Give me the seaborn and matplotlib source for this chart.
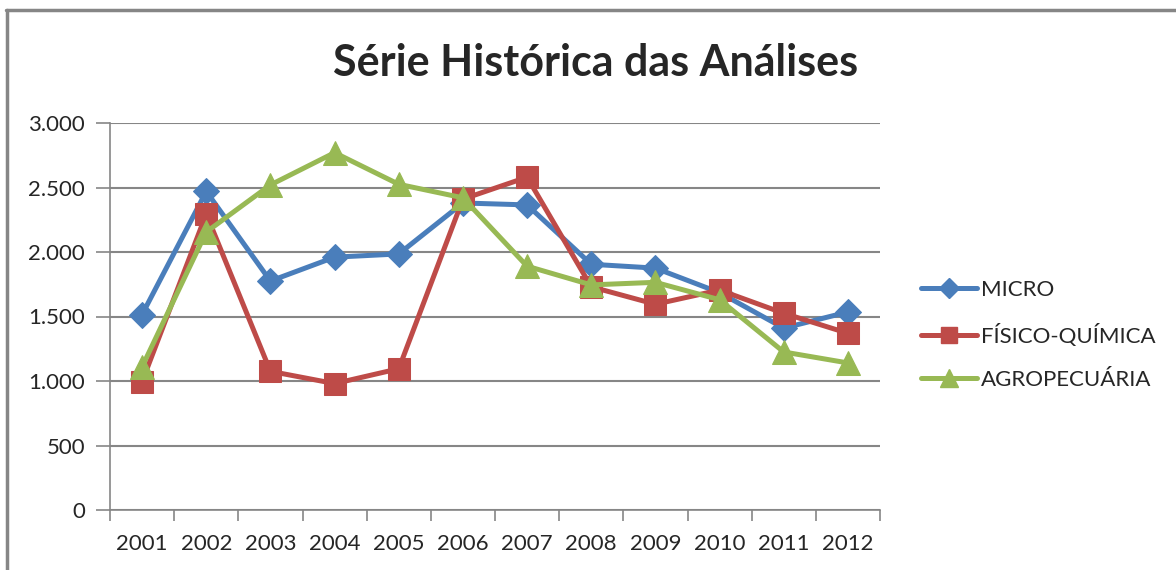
import matplotlib
matplotlib.use("Agg")
import matplotlib.pyplot as plt
import matplotlib.ticker as mticker
import numpy as np
import pandas as pd
import seaborn as sns
from matplotlib.lines import Line2D

# data
years = ["2001", "2002", "2003", "2004", "2005", "2006",
         "2007", "2008", "2009", "2010", "2011", "2012"]
micro = [1515, 2470, 1775, 1960, 1985, 2380, 2365, 1905, 1875, 1685, 1410, 1535]
fisico_quimica = [995, 2295, 1075, 980, 1095, 2410, 2580, 1730, 1595, 1705, 1525, 1370]
agropecuaria = [1110, 2155, 2520, 2770, 2525, 2420, 1890, 1745, 1765, 1630, 1225, 1140]
series_names = ["MICRO", "FÍSICO-QUÍMICA", "AGROPECUÁRIA"]
colors = ["#4A7EBB", "#BE4B48", "#98B954"]
markers = ["D", "s", "^"]
marker_sizes = [13, 16, 17]

df = pd.DataFrame({
    "ano": years * 3,
    "pos": list(range(len(years))) * 3,
    "valor": micro + fisico_quimica + agropecuaria,
    "serie": [series_names[0]] * 12 + [series_names[1]] * 12 + [series_names[2]] * 12,
})

sns.set_style("white")
plt.rcParams["font.family"] = ["Lato", "DejaVu Sans"]

fig = plt.figure(figsize=(11.76, 5.7), dpi=100)
ax = fig.add_axes([110 / 1176, 1 - 510 / 570, 770 / 1176, 387 / 570])

grid_col = "#868686"
for name, col, mk, ms in zip(series_names, colors, markers, marker_sizes):
    sub = df[df["serie"] == name]
    sns.lineplot(data=sub, x="pos", y="valor", ax=ax, color=col, linewidth=3.6,
                 marker=mk, markersize=ms, markeredgecolor=col, label=name,
                 legend=False, zorder=3)

ax.set_xlim(-0.5, len(years) - 0.5)
ax.set_ylim(0, 3000)
ax.set_xticks(np.arange(len(years)))
ax.set_xticklabels(years)
ax.set_xticks(np.arange(-0.5, len(years), 1), minor=True)
ax.set_yticks(np.arange(0, 3001, 500))
ax.yaxis.set_major_formatter(mticker.FuncFormatter(lambda v, p: f"{int(v):,}".replace(",", ".")))
ax.set_xlabel("")
ax.set_ylabel("")

ax.grid(axis="y", color=grid_col, linewidth=1.5)
ax.grid(axis="x", visible=False)
ax.set_axisbelow(True)
for s in ["top", "right"]:
    ax.spines[s].set_visible(False)
for s in ["left", "bottom"]:
    ax.spines[s].set_color(grid_col)
    ax.spines[s].set_linewidth(1.2)

ax.tick_params(axis="y", which="major", length=10, color=grid_col, width=1.2,
               labelsize=16, pad=8, left=True)
ax.tick_params(axis="x", which="major", length=0, labelsize=16, pad=17)
ax.tick_params(axis="x", which="minor", length=8, color=grid_col, width=1.2, bottom=True)

fig.text(596 / 1176, 1 - 63 / 570, "Série Histórica das Análises",
         ha="center", va="center", fontsize=31, fontweight="bold")

handles = [Line2D([0], [0], color=c, linewidth=3.6, marker=m, markersize=s * 0.75,
                  markeredgecolor=c) for c, m, s in zip(colors, markers, marker_sizes)]
fig.legend(handles, series_names, loc="center left",
           bbox_to_anchor=(921 / 1176, 1 - 335 / 570), frameon=False,
           fontsize=16, handlelength=2.5, handletextpad=0.2, labelspacing=1.05,
           borderpad=0, borderaxespad=0)

# chart-area frame (top and left edges visible in the crop)
fig.add_artist(Line2D([6 / 1176, 1], [1 - 10 / 570, 1 - 10 / 570],
                      transform=fig.transFigure, color=grid_col, linewidth=2.5))
fig.add_artist(Line2D([7 / 1176, 7 / 1176], [0, 1 - 10 / 570],
                      transform=fig.transFigure, color=grid_col, linewidth=2.5))

fig.savefig("out.png", dpi=100)
